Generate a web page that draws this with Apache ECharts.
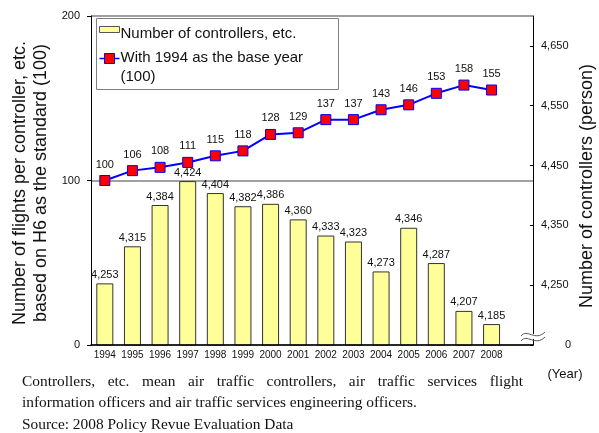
<!DOCTYPE html>
<html>
<head>
<meta charset="utf-8">
<script src="https://cdn.jsdelivr.net/npm/echarts@6/dist/echarts.min.js"></script>
<style>
body { margin: 0; background: #fff; }
#chart { position: absolute; left: 0; top: 0; width: 599px; height: 433px; }
.note { position: absolute; left: 22px; width: 501px; font-family: 'Liberation Serif', 'Times New Roman', serif;
        font-size: 15.4px; line-height: 18px; color: #111; white-space: nowrap; }
</style>
</head>
<body>
<div id="chart"></div>
<div class="note" style="top:372px; white-space:normal; text-align:justify; text-align-last:justify;">Controllers, etc. mean air traffic controllers, air traffic services flight</div>
<div class="note" style="top:393px;">information officers and air traffic services engineering officers.</div>
<div class="note" style="top:415px;">Source: 2008 Policy Revue Evaluation Data</div>
<script>
// 年度（最后留一个空位）
var years = ['1994', '1995', '1996', '1997', '1998', '1999', '2000', '2001',
    '2002', '2003', '2004', '2005', '2006', '2007', '2008', ''];

// 管制官等人数
var controllers = [4253, 4315, 4384, 4424, 4404, 4382, 4386, 4360,
    4333, 4323, 4273, 4346, 4287, 4207, 4185];

// 1994年=100
var baseIndex = [100, 106, 108, 111, 115, 118, 128, 129,
    137, 137, 143, 146, 153, 158, 155];

var leftTicks = [0, 100, 200];
var rightTicks = [4250, 4350, 4450, 4550, 4650];

var chart = echarts.init(document.getElementById('chart'));

var sans = "'Liberation Sans', Arial, sans-serif";

function comma(v) {
    return String(v).replace(/\B(?=(\d{3})+(?!\d))/g, ',');
}

var option = {
    animation: false,
    textStyle: { fontFamily: sans, color: '#111' },
    grid: { left: 91, top: 16, width: 442, height: 329 },
    xAxis: {
        type: 'category',
        data: years,
        axisLine: { lineStyle: { color: '#000', width: 1.5 } },
        axisTick: { inside: true, length: 3, lineStyle: { color: '#000' } },
        axisLabel: { interval: 0, fontSize: 10, color: '#111', margin: 5 },
        z: 5
    },
    yAxis: [
        {
            type: 'value',
            min: leftTicks[0],
            max: leftTicks[leftTicks.length - 1],
            interval: 100,
            axisLine: { show: true, lineStyle: { color: '#000' } },
            axisTick: { show: true, length: 4, lineStyle: { color: '#000' } },
            axisLabel: { fontSize: 11, color: '#111', margin: 11 },
            splitLine: { show: true, lineStyle: { color: '#808080', width: 1.5 } }
        },
        {
            type: 'value',
            position: 'right',
            min: 4150,
            max: 4700,
            interval: 100,
            axisLine: { show: true, lineStyle: { color: '#000' } },
            axisTick: { show: true, inside: true, length: 3, lineStyle: { color: '#000' } },
            axisLabel: {
                fontSize: 11,
                color: '#111',
                margin: 8,
                showMaxLabel: false,
                formatter: function (v) {
                    if (v === 4150) return '{z|0}';
                    return rightTicks.indexOf(v) >= 0 ? comma(v) : '';
                },
                rich: { z: { fontSize: 11, color: '#111', padding: [0, 0, 0, 24] } }
            },
            splitLine: { show: false }
        }
    ],
    series: [
        {
            name: 'Number of controllers, etc.',
            type: 'bar',
            yAxisIndex: 1,
            barWidth: 17,
            data: controllers,
            itemStyle: { color: '#FFFF99', borderColor: '#333', borderWidth: 1 },
            label: {
                show: true,
                position: 'top',
                distance: 3,
                fontSize: 11,
                color: '#111',
                formatter: function (p) { return comma(p.value); }
            }
        },
        {
            name: 'With 1994 as the base year (100)',
            type: 'line',
            yAxisIndex: 0,
            data: baseIndex,
            symbol: 'rect',
            symbolSize: 10,
            lineStyle: { color: '#0000FF', width: 2 },
            itemStyle: { color: '#FF0000', borderColor: '#0000FF', borderWidth: 1 },
            label: { show: true, position: 'top', distance: 5, fontSize: 11, color: '#111' },
            z: 10
        }
    ],
    graphic: [
        // 左侧轴标题
        {
            type: 'text', x: 31, y: 183, rotation: Math.PI / 2,
            style: {
                text: 'Number of flights per controller, etc.\nbased on H6 as the standard (100)',
                font: '18px ' + sans, fill: '#111', lineHeight: 21,
                textAlign: 'center', textVerticalAlign: 'middle'
            }
        },
        // 右侧轴标题
        {
            type: 'text', x: 587, y: 186, rotation: Math.PI / 2,
            style: {
                text: 'Number of controllers (person)',
                font: '18px ' + sans, fill: '#111',
                textAlign: 'center', textVerticalAlign: 'middle'
            }
        },
        {
            type: 'text', x: 565, y: 374,
            style: { text: '(Year)', font: '13px ' + sans, fill: '#111', textAlign: 'center', textVerticalAlign: 'middle' }
        },
        // 图例
        {
            type: 'group', left: 96, top: 18,
            children: [
                { type: 'rect', shape: { x: 0, y: 0, width: 242, height: 71 },
                  style: { fill: '#fff', stroke: '#808080', lineWidth: 1 } },
                { type: 'rect', shape: { x: 3, y: 8, width: 20, height: 6 },
                  style: { fill: '#FFFF99', stroke: '#555', lineWidth: 1 } },
                { type: 'text', x: 24, y: 15,
                  style: { text: 'Number of controllers, etc.', font: '15px ' + sans, fill: '#111', textVerticalAlign: 'middle' } },
                { type: 'line', shape: { x1: 3, y1: 40, x2: 23, y2: 40 },
                  style: { stroke: '#0000FF', lineWidth: 1.5 } },
                { type: 'rect', shape: { x: 8, y: 35, width: 10, height: 10 },
                  style: { fill: '#FF0000', stroke: '#0000FF', lineWidth: 1 } },
                { type: 'text', x: 24, y: 30,
                  style: { text: 'With 1994 as the base year\n(100)', font: '15px ' + sans, fill: '#111',
                           lineHeight: 19, textVerticalAlign: 'top' } }
            ]
        },
        // 断轴符号
        {
            type: 'rect', shape: { x: 524, y: 334, width: 18, height: 5 },
            style: { fill: '#fff' }, z: 20
        },
        {
            type: 'bezierCurve', z: 21,
            shape: { x1: 521, y1: 336, cpx1: 527, cpy1: 328, cpx2: 535, cpy2: 342, x2: 545, y2: 332 },
            style: { stroke: '#555', lineWidth: 1, fill: null }
        },
        {
            type: 'bezierCurve', z: 21,
            shape: { x1: 521, y1: 341, cpx1: 527, cpy1: 333, cpx2: 535, cpy2: 347, x2: 545, y2: 337 },
            style: { stroke: '#555', lineWidth: 1, fill: null }
        }
    ]
};

chart.setOption(option);
</script>
</body>
</html>
